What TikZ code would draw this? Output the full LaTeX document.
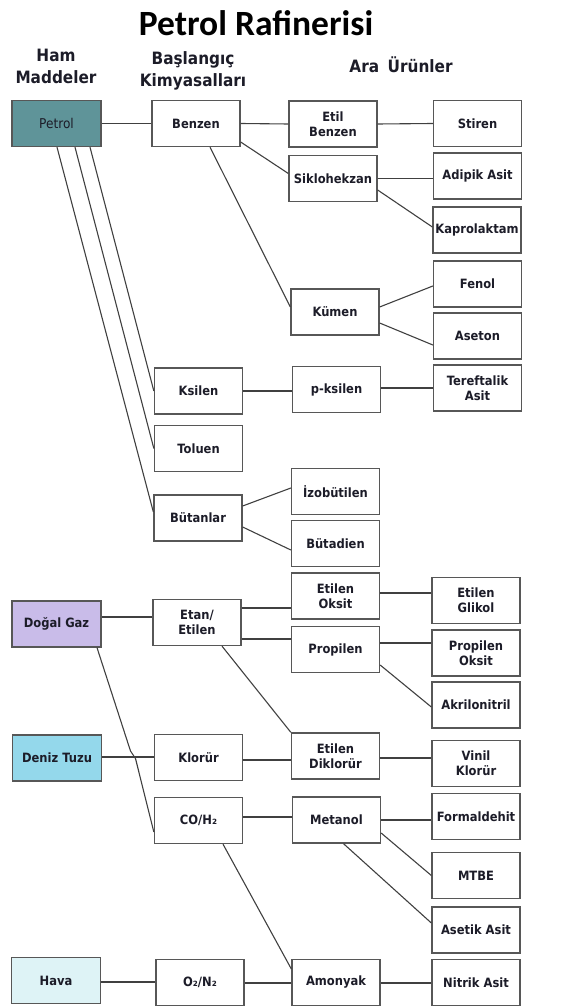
\documentclass[tikz,border=0pt]{standalone}
\usepackage{fontspec}
\setmainfont{DejaVu Sans}
\newfontfamily\lblfont{DejaVu Sans}[FakeStretch=0.9]
\newfontfamily\titlefont{Carlito}
\definecolor{petrolfill}{HTML}{5F9499}
\definecolor{gasfill}{HTML}{C9BCE9}
\definecolor{saltfill}{HTML}{94D8EB}
\definecolor{airfill}{HTML}{DEF3F6}
\definecolor{ink}{HTML}{1C1C28}
\begin{document}
\begin{tikzpicture}[x=1pt,y=-1pt,
  box/.style={draw=black!66, line width=1.3pt, fill=white, inner sep=1pt,
    align=center, text=ink, minimum width=88pt, minimum height=46pt,
    font=\lblfont\bfseries\fontsize{12.8}{15}\selectfont},
  rawbox/.style={box, minimum width=89pt},
  link/.style={draw=black!75, line width=1.1pt},
  head/.style={align=center, text=ink,
    font=\lblfont\bfseries\fontsize{17}{22}\selectfont}]
\useasboundingbox (0,0) rectangle (569,1008);

% headings
\node[font=\titlefont\bfseries\fontsize{35.5}{40}\selectfont, text=black] (title) at (256,23) {Petrol Rafinerisi};
\node[head] (hraw) at (56,66) {Ham\\Maddeler};
\node[head] (hstart) at (193,71) {Başlangıç\\Kimyasalları};
\node[head] (hmid) at (401,65) {Ara\enspace Ürünler};

% raw materials
\node[rawbox, fill=petrolfill, font=\lblfont\fontsize{13.5}{15}\selectfont] (petrol) at (56.5,123.5) {Petrol};
\node[rawbox, fill=gasfill] (dogal) at (56.5,624) {Doğal Gaz};
\node[rawbox, fill=saltfill] (deniz) at (57,758) {Deniz Tuzu};
\node[rawbox, fill=airfill] (hava) at (56,980.5) {Hava};

% starting chemicals
\node[box] (benzen) at (196,123.5) {Benzen};
\node[box] (ksilen) at (198.5,391) {Ksilen};
\node[box] (toluen) at (198.5,448.5) {Toluen};
\node[box] (butanlar) at (198,518) {Bütanlar};
\node[box] (etan) at (197,622.5) {Etan/\\Etilen};
\node[box] (klorur) at (198.5,757.5) {Klorür};
\node[box] (coh) at (198.5,820.5) {CO/H₂};
\node[box] (oxn) at (200,982.5) {O₂/N₂};

% intermediates
\node[box] (etilbenzen) at (333,124) {Etil\\Benzen};
\node[box] (siklo) at (333,178.5) {Siklohekzan};
\node[box] (kumen) at (335,312) {Kümen};
\node[box] (pksilen) at (336.5,389.5) {p-ksilen};
\node[box] (izobut) at (335.5,491.5) {İzobütilen};
\node[box] (butadien) at (335.5,543.5) {Bütadien};
\node[box] (etoksit) at (335.5,596) {Etilen\\Oksit};
\node[box] (propilen) at (335.5,649.5) {Propilen};
\node[box] (etdiklor) at (335.5,756) {Etilen\\Diklorür};
\node[box] (metanol) at (336.5,820) {Metanol};
\node[box] (amonyak) at (336,982.5) {Amonyak};

% products
\node[box] (stiren) at (477.5,123.5) {Stiren};
\node[box] (adipik) at (477.5,176) {Adipik Asit};
\node[box] (kapro) at (477,230) {Kaprolaktam};
\node[box] (fenol) at (477.5,284) {Fenol};
\node[box] (aseton) at (477.5,336) {Aseton};
\node[box] (teref) at (477.5,388) {Tereftalik\\Asit};
\node[box] (etglikol) at (476,600.5) {Etilen\\Glikol};
\node[box] (propoksit) at (476,653) {Propilen\\Oksit};
\node[box] (akril) at (476,705) {Akrilonitril};
\node[box] (vinil) at (476,763.5) {Vinil\\Klorür};
\node[box] (formal) at (476,816.5) {Formaldehit};
\node[box] (mtbe) at (476,875.5) {MTBE};
\node[box] (asetik) at (476,930) {Asetik Asit};
\node[box] (nitrik) at (476,982.5) {Nitrik Asit};

% petrol branch
\draw[link] (petrol.east) -- (benzen.west);
\draw[link] ([xshift=33.5pt]petrol.south) -- (ksilen.west);
\draw[link] ([xshift=18.5pt]petrol.south) -- (toluen.west);
\draw[link] ([xshift=0.5pt]petrol.south) -- ([yshift=6pt]butanlar.west);
\draw[link] (benzen.east) -- (etilbenzen.west);
\draw[link] ([yshift=-18.5pt]benzen.east) -- ([yshift=5pt]siklo.west);
\draw[link] ([xshift=14pt]benzen.south) -- ([yshift=5pt]kumen.west);
\draw[link] (etilbenzen.east) -- (stiren.west);
\draw[link] (siklo.east) -- (siklo.east -| adipik.west);
\draw[link] ([yshift=-11.5pt]siklo.east) -- ([yshift=3pt]kapro.west);
\draw[link] ([yshift=5pt]kumen.east) -- ([yshift=-2pt]fenol.west);
\draw[link] ([yshift=-11pt]kumen.east) -- ([yshift=-9pt]aseton.west);
\draw[link] (ksilen.east) -- (ksilen.east -| pksilen.west);
\draw[link] (pksilen.east |- 0,388) -- (teref.west |- 0,388);
\draw[link] ([yshift=12pt]butanlar.east) -- ([yshift=3.5pt]izobut.west);
\draw[link] ([yshift=-9pt]butanlar.east) -- ([yshift=-6.5pt]butadien.west);

% natural gas branch
\draw[link] (dogal.east |- 0,617) -- (etan.west |- 0,617);
\draw[link] (etan.east |- 0,608) -- (etoksit.west |- 0,608);
\draw[link] (etan.east |- 0,639) -- (propilen.west |- 0,639);
\draw[link] ([xshift=25pt]etan.south) -- (etdiklor.north west);
\draw[link] (etoksit.east |- 0,593) -- (etglikol.west |- 0,593);
\draw[link] (propilen.east |- 0,643) -- (propoksit.west |- 0,643);
\draw[link] ([yshift=-15.5pt]propilen.east) -- ([yshift=-2pt]akril.west);
\coordinate (hopA) at (130.5,751);
\coordinate (hopB) at (135.5,758.5);
\draw[link] ([xshift=40.5pt]dogal.south) -- (hopA) -- (hopB) -- ([yshift=-11.5pt]coh.west);

% sea salt branch
\draw[link] (deniz.east |- 0,757) -- (klorur.west |- 0,757);
\draw[link] (klorur.east |- 0,760) -- (etdiklor.west |- 0,760);
\draw[link] (etdiklor.east |- 0,758) -- (vinil.west |- 0,758);

% synthesis gas branch
\draw[link] (coh.east |- 0,817) -- (metanol.west |- 0,817);
\draw[link] ([xshift=24.5pt]coh.south) -- ([yshift=13.5pt]amonyak.west);
\draw[link] (metanol.east |- 0,820) -- (formal.west |- 0,820);
\draw[link] ([yshift=-13pt]metanol.east) -- (mtbe.west);
\draw[link] ([xshift=7pt]metanol.south) -- ([yshift=7pt]asetik.west);

% air branch
\draw[link] (hava.east |- 0,982) -- (oxn.west |- 0,982);
\draw[link] (oxn.east |- 0,983) -- (amonyak.west |- 0,983);
\draw[link] (amonyak.east |- 0,983) -- (nitrik.west |- 0,983);
\end{tikzpicture}
\end{document}
